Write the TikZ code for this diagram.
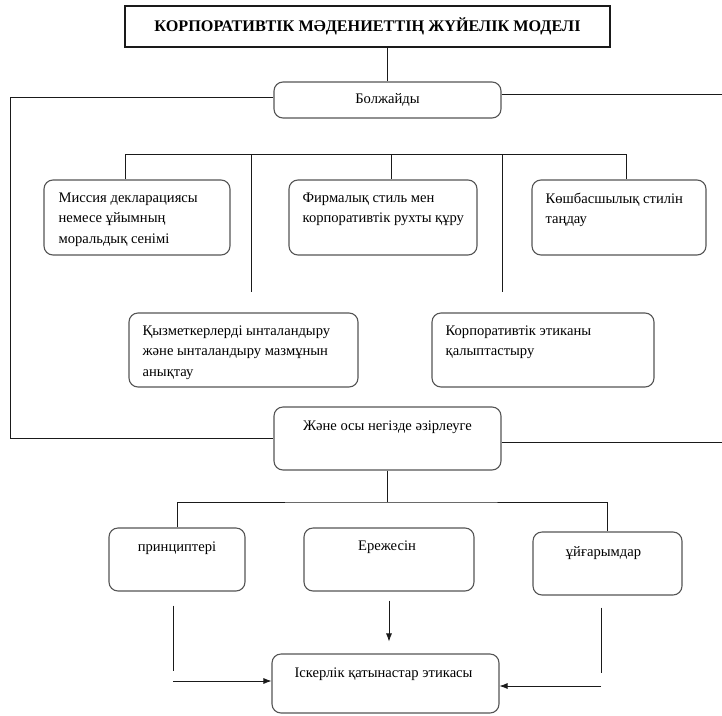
\documentclass[tikz,border=0pt]{standalone}
\usepackage{fontspec}
\setmainfont{Liberation Serif}
\usepackage{tikz}
\usetikzlibrary{arrows.meta}
\definecolor{boxgray}{HTML}{555555}
\definecolor{linkblack}{HTML}{1A1A1A}
\tikzset{
  frame/.style={draw=linkblack,line width=1.1pt,inner sep=0pt,
    font=\fontsize{16.2}{19}\selectfont\bfseries},
  stage/.style={draw=boxgray,rounded corners=9pt,line width=1.1pt,inner sep=0pt},
  stage text/.style={anchor=north west,align=left,inner sep=0pt,
    font=\fontsize{14.6}{20.5}\selectfont},
  stage label/.style={anchor=north,inner sep=0pt,font=\fontsize{14.6}{17}\selectfont},
  link/.style={draw=linkblack,line width=0.8pt},
  arrow link/.style={link,-{Latex[length=8pt,width=6pt]}}
}
\begin{document}
\begin{tikzpicture}[x=1pt,y=-1pt]
  \useasboundingbox (0,0) rectangle (722,715);
  \node[frame,minimum width=485pt,minimum height=41pt] (title) at (367.5,26.5)
    {КОРПОРАТИВТІК МӘДЕНИЕТТІҢ ЖҮЙЕЛІК МОДЕЛІ};
  \node[stage,minimum width=227pt,minimum height=36pt,font=\fontsize{14.6}{17}\selectfont]
    (forecast) at (387.5,100) {Болжайды};
  \node[stage,minimum width=186pt,minimum height=75pt] (mission) at (137,217.5) {};
  \node[stage,minimum width=188pt,minimum height=75pt] (style) at (383,217.5) {};
  \node[stage,minimum width=174pt,minimum height=75pt] (leadership) at (619,217.5) {};
  \node[stage,minimum width=229pt,minimum height=74pt] (motivation) at (243.5,350) {};
  \node[stage,minimum width=222pt,minimum height=74pt] (ethics) at (543,350) {};
  \node[stage,minimum width=227pt,minimum height=63pt] (develop) at (387.5,438.5) {};
  \node[stage,minimum width=136pt,minimum height=63pt] (principles) at (177,559.5) {};
  \node[stage,minimum width=170pt,minimum height=63pt] (rules) at (389,559.5) {};
  \node[stage,minimum width=149pt,minimum height=63pt] (premises) at (607.5,563.5) {};
  \node[stage,minimum width=227pt,minimum height=59pt] (business) at (385.5,683.5) {};

  \node[stage text] (missionT) at ([xshift=15pt,yshift=-13pt]mission.north west)
    {Миссия декларациясы\\немесе ұйымның\\моральдық сенімі};
  \node[stage text] (styleT) at ([xshift=14pt,yshift=-13pt]style.north west)
    {Фирмалық стиль мен\\корпоративтік рухты құру};
  \node[stage text] (leadershipT) at ([xshift=14pt,yshift=-13pt]leadership.north west)
    {Көшбасшылық стилін\\таңдау};
  \node[stage text] (motivationT) at ([xshift=14pt,yshift=-13pt]motivation.north west)
    {Қызметкерлерді ынталандыру\\және ынталандыру мазмұнын\\анықтау};
  \node[stage text] (ethicsT) at ([xshift=14pt,yshift=-13pt]ethics.north west)
    {Корпоративтік этиканы\\қалыптастыру};
  \node[stage label] (developT) at ([yshift=-14pt]develop.north) {Және осы негізде әзірлеуге};
  \node[stage label] (principlesT) at ([yshift=-14pt]principles.north) {принциптері};
  \node[stage label] (rulesT) at ([xshift=-2pt,yshift=-13pt]rules.north) {Ережесін};
  \node[stage label] (premisesT) at ([xshift=-4pt,yshift=-15pt]premises.north) {ұйғарымдар};
  \node[stage label] (businessT) at ([xshift=-2pt,yshift=-14pt]business.north) {Іскерлік қатынастар этикасы};

  \coordinate (left rail) at (10,97);
  \coordinate (right edge) at (722,94);
  \coordinate (bus a) at (125,154);
  \coordinate (bus b) at (251,154);
  \coordinate (bus c) at (391,154);
  \coordinate (bus d) at (502,154);
  \coordinate (bus e) at (626,154);
  \coordinate (bus f) at (390,502);
  \coordinate (corner l) at (173,681);
  \coordinate (corner r) at (601,686);

  \draw[link] (title.south -| forecast.north) -- (forecast.north);
  \draw[link] ([yshift=3pt]forecast.west) -- ([yshift=3pt]forecast.west -| left rail) |- (develop.west);
  \draw[link] ([yshift=6pt]forecast.east) -- ([yshift=6pt]forecast.east -| right edge);
  \draw[link] ([yshift=-4pt]develop.east) -- ([yshift=-4pt]develop.east -| right edge);
  \draw[link] (bus a |- mission.north) -- (bus a) -- (bus e) -- (bus e |- leadership.north);
  \draw[link] (bus c) -- (bus c |- style.north);
  \draw[link,shorten >=20pt] (bus b) -- (bus b |- motivation.north);
  \draw[link,shorten >=20pt] (bus d) -- (bus d |- ethics.north);
  \draw[link] (develop.south) -- (develop.south |- bus f);
  \draw[link] (principles.north) |- (bus f) -| (premises.north);
  \draw[arrow link,shorten <=9pt,shorten >=12pt] (rules.south) -- (rules.south |- business.north);
  \draw[link,shorten <=14pt,shorten >=10pt] (principles.south -| corner l) -- (corner l);
  \draw[arrow link] (corner l) -- (business.west |- corner l);
  \draw[link,shorten <=12pt,shorten >=13pt] (premises.south -| corner r) -- (corner r);
  \draw[arrow link] (corner r) -- (business.east |- corner r);
\end{tikzpicture}
\end{document}
